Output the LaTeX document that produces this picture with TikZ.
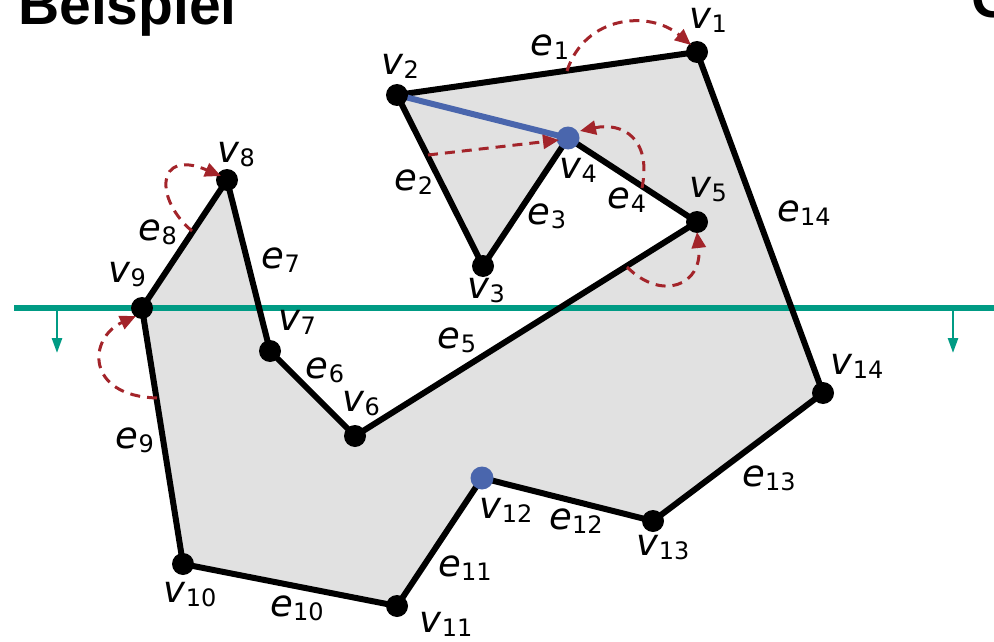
\documentclass[tikz,border=0pt]{standalone}
\usepackage{fontspec}
\setmainfont{DejaVu Sans}
\newfontfamily\titlefont{Liberation Sans}
\usetikzlibrary{arrows.meta}
\definecolor{polyfill}{HTML}{E1E1E1}
\definecolor{segblue}{HTML}{4A66AD}
\definecolor{sweepteal}{HTML}{009B84}
\definecolor{evred}{HTML}{A3242A}
\newcommand{\lbl}[2]{\textit{#1}\raisebox{-4pt}{\fontsize{24}{24}\selectfont #2}}
\tikzset{
  vtx/.style={circle,fill=black,inner sep=0pt,minimum size=22pt},
  bvtx/.style={circle,fill=segblue,inner sep=0pt,minimum size=23pt},
  edge/.style={line width=6pt,line join=round},
  lab/.style={font=\fontsize{37}{37}\selectfont,inner sep=0pt},
  evarrow/.style={evred,line width=3pt,dash pattern=on 10pt off 7pt,-{Triangle[length=16pt,width=14pt]}},
  sweep/.style={sweepteal,line width=5.5pt},
  sweeparrow/.style={sweepteal,line width=2.6pt,-{Triangle[length=15pt,width=10pt]}},
}
\begin{document}
\begin{tikzpicture}[x=1pt,y=-1pt]
\useasboundingbox (0,0) rectangle (994,642);
% vertices
\coordinate (p1) at (697,52);
\coordinate (p2) at (397,95);
\coordinate (p3) at (483,266);
\coordinate (p4) at (568,138);
\coordinate (p5) at (697,222);
\coordinate (p6) at (355,436);
\coordinate (p7) at (270,351);
\coordinate (p8) at (227,180);
\coordinate (p9) at (142,308);
\coordinate (p10) at (183,564);
\coordinate (p11) at (397,606);
\coordinate (p12) at (482,478);
\coordinate (p13) at (653,521);
\coordinate (p14) at (823,393);
\fill[polyfill] (p1)--(p2)--(p3)--(p4)--(p5)--(p6)--(p7)--(p8)--(p9)--(p10)--(p11)--(p12)--(p13)--(p14)--cycle;
% sweep line
\coordinate (tl) at (14,308);
\coordinate (tr) at (994,308);
\draw[sweep] (tl) -- (tr);
\coordinate (d1) at (57,308); \coordinate (d1e) at (57,353);
\coordinate (d2) at (953,308); \coordinate (d2e) at (953,353);
\draw[sweeparrow] (d1) -- (d1e);
\draw[sweeparrow] (d2) -- (d2e);
% edges
\draw[edge] (p1)--(p2)--(p3)--(p4)--(p5)--(p6)--(p7)--(p8)--(p9)--(p10)--(p11)--(p12)--(p13)--(p14)--cycle;
\draw[segblue,line width=6pt] (p2) -- (p4);
% vertex dots
\foreach \i in {1,2,3,5,6,7,8,9,10,11,13,14} {\node[vtx] (v\i) at (p\i) {};}
\node[bvtx] (v4) at (p4) {};
\node[bvtx] (v12) at (p12) {};
% event arrows
\coordinate (a1) at (567,71);
\coordinate (a2) at (428,155);
\coordinate (a4) at (642,188);
\coordinate (a5) at (627,267);
\coordinate (a8) at (192,231);
\coordinate (a9) at (157,398);
\coordinate (t1) at (691,45);
\coordinate (t2) at (559,140);
\coordinate (t4) at (580,131);
\coordinate (t5) at (697,232);
\coordinate (t8) at (221,176);
\coordinate (t9) at (136,316);
\draw[evarrow] (a1) .. controls (585,15) and (650,10) .. (t1);
\draw[evarrow] (a2) -- (t2);
\draw[evarrow] (a4) .. controls (652,138) and (622,122) .. (t4);
\draw[evarrow] (a5) .. controls (662,302) and (703,285) .. (t5);
\draw[evarrow] (a8) .. controls (155,200) and (155,148) .. (t8);
\draw[evarrow] (a9) .. controls (85,396) and (88,338) .. (t9);
% labels
\node[lab] (lv1) at (708,20) {\lbl{v}{1}};
\node[lab] (le1) at (550,47) {\lbl{e}{1}};
\node[lab] (lv2) at (400,66) {\lbl{v}{2}};
\node[lab] (le2) at (414,182) {\lbl{e}{2}};
\node[lab] (lv3) at (486,291) {\lbl{v}{3}};
\node[lab] (lv4) at (578,170) {\lbl{v}{4}};
\node[lab] (le3) at (547,216) {\lbl{e}{3}};
\node[lab] (le4) at (627,200) {\lbl{e}{4}};
\node[lab] (lv5) at (708,190) {\lbl{v}{5}};
\node[lab] (le14) at (804,213) {\lbl{e}{14}};
\node[lab] (lv8) at (236,155) {\lbl{v}{8}};
\node[lab] (le8) at (158,232) {\lbl{e}{8}};
\node[lab] (le7) at (281,260) {\lbl{e}{7}};
\node[lab] (lv9) at (127,275) {\lbl{v}{9}};
\node[lab] (lv7) at (297,322) {\lbl{v}{7}};
\node[lab] (le5) at (457,340) {\lbl{e}{5}};
\node[lab] (le6) at (325,370) {\lbl{e}{6}};
\node[lab] (lv6) at (361,404) {\lbl{v}{6}};
\node[lab] (lv14) at (857,366) {\lbl{v}{14}};
\node[lab] (le9) at (135,440) {\lbl{e}{9}};
\node[lab] (le13) at (769,478) {\lbl{e}{13}};
\node[lab] (lv12) at (506,510) {\lbl{v}{12}};
\node[lab] (le12) at (576,521) {\lbl{e}{12}};
\node[lab] (lv13) at (663,548) {\lbl{v}{13}};
\node[lab] (le11) at (465,568) {\lbl{e}{11}};
\node[lab] (lv10) at (190,595) {\lbl{v}{10}};
\node[lab] (le10) at (297,608) {\lbl{e}{10}};
\node[lab] (lv11) at (446,624) {\lbl{v}{11}};
% titles
\node[anchor=base west,inner sep=0pt,font=\titlefont\bfseries\fontsize{57}{57}\selectfont] (title) at (18,25) {Beispiel};
\node[anchor=base west,inner sep=0pt,font=\titlefont\bfseries\fontsize{57}{57}\selectfont] (gtitle) at (971,18) {G};
\end{tikzpicture}
\end{document}
